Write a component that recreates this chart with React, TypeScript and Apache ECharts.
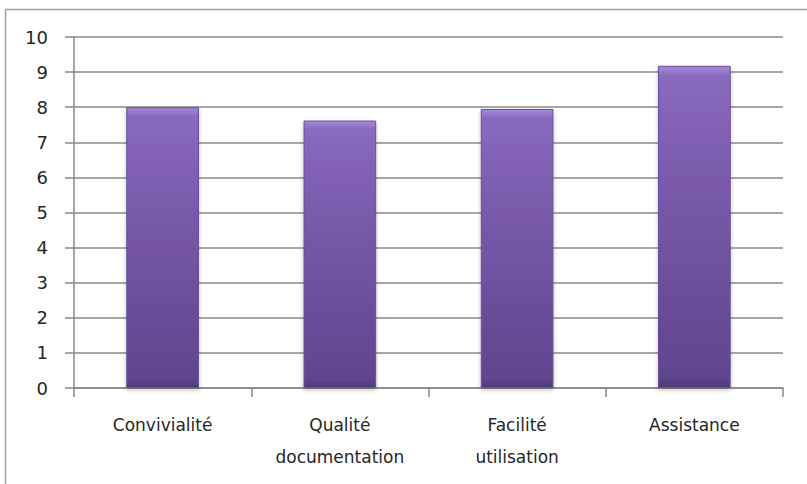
import React, { useEffect, useRef } from "react";
import * as echarts from "echarts";

const categories = ["Convivialité", "Qualité\ndocumentation", "Facilité\nutilisation", "Assistance"];
const values = [8.0, 7.62, 7.95, 9.18];
const yTicks = [0, 10, 1];

export default function App() {
  const ref = useRef<HTMLDivElement>(null);
  useEffect(() => {
    if (!ref.current) return;
    const chart = echarts.init(ref.current, null, { renderer: "svg" });
    const font = "DejaVu Sans";
    chart.setOption({
      animation: false,
      backgroundColor: "#ffffff",
      graphic: [
        { type: "line", shape: { x1: 5.5, y1: 9.5, x2: 5.5, y2: 484 }, style: { stroke: "#a0a0a0", lineWidth: 1.5 } },
        { type: "line", shape: { x1: 5.5, y1: 9.5, x2: 807, y2: 9.5 }, style: { stroke: "#a0a0a0", lineWidth: 1.5 } },
      ],
      grid: { left: 74, right: 24, top: 37, bottom: 96 },
      xAxis: {
        type: "category",
        data: categories,
        axisLine: { lineStyle: { color: "#888888", width: 1.5 } },
        axisTick: { show: true, length: 9, alignWithLabel: false, lineStyle: { color: "#888888", width: 1.5 } },
        axisLabel: { color: "#262626", fontFamily: font, fontSize: 17, lineHeight: 32, margin: 21, interval: 0 },
      },
      yAxis: {
        type: "value",
        min: yTicks[0],
        max: yTicks[1],
        interval: yTicks[2],
        axisLine: { show: true, lineStyle: { color: "#888888", width: 1.5 } },
        axisTick: { show: true, length: 9, lineStyle: { color: "#888888", width: 1.5 } },
        splitLine: { lineStyle: { color: "#8a8a8a", width: 1.5 } },
        axisLabel: { color: "#262626", fontFamily: font, fontSize: 18, margin: 26 },
      },
      series: [
        {
          type: "bar",
          data: values,
          barWidth: "41%",
          itemStyle: {
            color: new echarts.graphic.LinearGradient(0, 0, 0, 1, [
              { offset: 0, color: "#a88ad8" },
              { offset: 0.03, color: "#8a6abf" },
              { offset: 0.3, color: "#7c5cae" },
              { offset: 0.97, color: "#60458d" },
              { offset: 1, color: "#4e3878" },
            ]),
            borderColor: "#694d99",
            borderWidth: 1,
            shadowColor: "rgba(0,0,0,0.25)",
            shadowBlur: 4,
            shadowOffsetY: 2,
          },
        },
      ],
    });
    return () => chart.dispose();
  }, []);
  return <div ref={ref} style={{ width: 807, height: 484, position: "absolute", left: 0, top: 0 }} />;
}
